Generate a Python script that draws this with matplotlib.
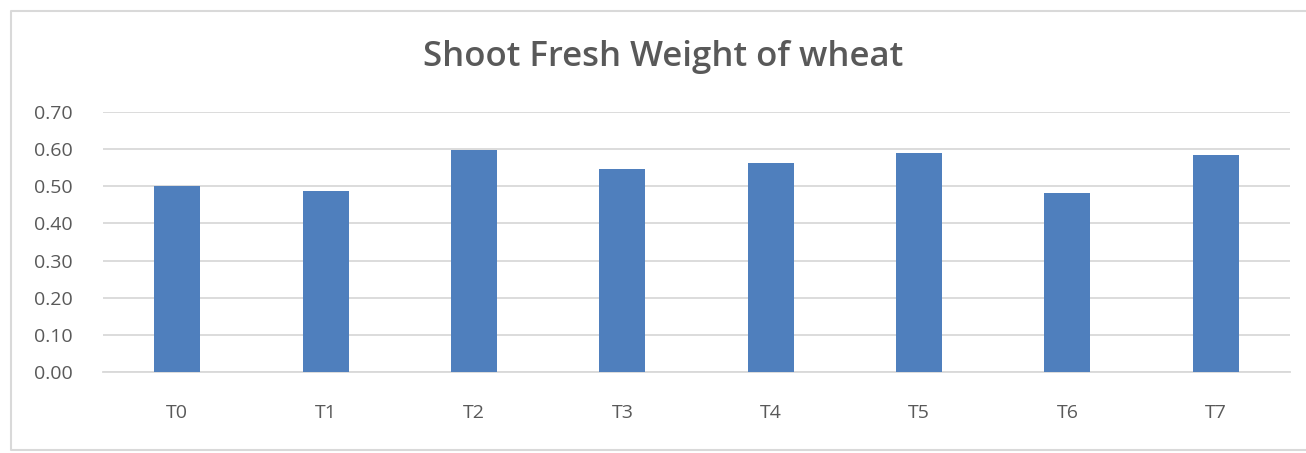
import numpy as np
import matplotlib.pyplot as plt
from matplotlib.lines import Line2D

treatments = ["T0", "T1", "T2", "T3", "T4", "T5", "T6", "T7"]
fresh_weight = [0.50, 0.488, 0.598, 0.546, 0.562, 0.590, 0.483, 0.583]
y_ticks = [0.0, 0.1, 0.2, 0.3, 0.4, 0.5, 0.6, 0.7]

plt.rcParams["font.family"] = ["Open Sans", "DejaVu Sans"]

fig = plt.figure(figsize=(13.06, 4.53), dpi=100)

# light chart frame (left, top, bottom; right edge is cut off)
W, H = 1306, 453
frame_x = [1.0, 11 / W, 11 / W, 1.0]
frame_y = [1 - 11 / H, 1 - 11 / H, 1 - 450 / H, 1 - 450 / H]
fig.lines.append(Line2D(frame_x, frame_y, transform=fig.transFigure,
                        color="#D9D9D9", linewidth=1.5))

ax = fig.add_axes([103 / W, 1 - 372 / H, 1187 / W, 260 / H])

x = np.arange(len(treatments))
ax.bar(x, fresh_weight, width=0.31, color="#4F7FBD", zorder=3)

ax.set_xlim(-0.5, len(treatments) - 0.5)
ax.set_ylim(0, 0.7)
ax.set_yticks(y_ticks)
ax.set_yticklabels([f"{v:.2f}" for v in y_ticks])
ax.set_xticks(x)
ax.set_xticklabels(treatments)

ax.grid(axis="y", color="#D9D9D9", linewidth=1.3, zorder=0)
for side in ["top", "right", "left"]:
    ax.spines[side].set_visible(False)
ax.spines["bottom"].set_color("#D9D9D9")
ax.spines["bottom"].set_linewidth(1.3)

ax.tick_params(axis="both", length=0, labelsize=14, labelcolor="#595959")
ax.tick_params(axis="x", pad=23)
ax.tick_params(axis="y", pad=22)

fig.text(0.508, 1 - 57 / H, "Shoot Fresh Weight of wheat",
         ha="center", va="center", fontsize=25, fontweight="semibold",
         color="#595959")

fig.savefig("out.png", dpi=100)
plt.close(fig)
